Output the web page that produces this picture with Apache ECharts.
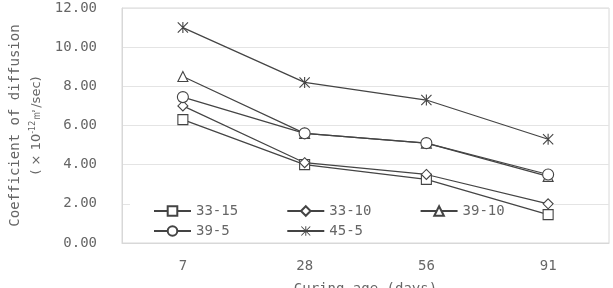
<!DOCTYPE html>
<html>
<head>
<meta charset="utf-8">
<script src="https://cdn.jsdelivr.net/npm/echarts@6/dist/echarts.min.js"></script>
<style>
  html, body { margin: 0; padding: 0; background: #fff; }
  #echarts { width: 613px; height: 288px; }
</style>
</head>
<body>
<div id="echarts"></div>
<script>
// curing age categories
var ages = ['7', '28', '56', '91'];

// diffusion coefficient per mix (x10^-12 m2/sec)
var mix3315 = [6.3, 4.0, 3.25, 1.45];
var mix3310 = [7.0, 4.1, 3.5, 2.0];
var mix3910 = [8.5, 5.6, 5.1, 3.4];
var mix395 = [7.45, 5.6, 5.1, 3.5];
var mix455 = [11.0, 8.2, 7.3, 5.3];

var yTicks = [0, 2, 4, 6, 8, 10, 12];

var lineColor = '#444';
var textColor = '#666';
var mono = 'DejaVu Sans Mono';

// asterisk marker: vertical bar + X
var starPath = 'path://M4.5,0 L5.5,0 L5.5,10 L4.5,10 Z M0,0.7 L0.7,0 L10,9.3 L9.3,10 Z M9.3,0 L10,0.7 L0.7,10 L0,9.3 Z';

function makeSeries(name, data, symbol, size, filled) {
    return {
        name: name,
        type: 'line',
        data: data,
        symbol: symbol,
        symbolSize: size,
        showSymbol: true,
        lineStyle: { color: lineColor, width: 1.2 },
        itemStyle: filled
            ? { color: lineColor, borderWidth: 0 }
            : { color: '#fff', borderColor: lineColor, borderWidth: 1.1 },
        emphasis: { disabled: true },
        z: 3
    };
}

var seriesArray = [
    makeSeries('33-15', mix3315, 'rect', 10, false),
    makeSeries('33-10', mix3310, 'diamond', 10, false),
    makeSeries('39-10', mix3910, 'triangle', 10, false),
    makeSeries('39-5', mix395, 'circle', 11, false),
    makeSeries('45-5', mix455, starPath, 11, true)
];

var myEChart = echarts.init(document.getElementById('echarts'));

// pad names so legend columns line up (monospace font)
function padName(name) {
    var s = name;
    while (s.length < 10) s += ' ';
    return s;
}

function makeLegend(names, top, bg) {
    return {
        data: names,
        left: 130,
        top: top,
        z: 1,
        orient: 'horizontal',
        backgroundColor: bg ? '#fff' : 'transparent',
        padding: bg ? [5, 7, 19, 23] : [0, 0, 0, 23],
        itemWidth: 37,
        itemHeight: 12,
        itemGap: 6,
        formatter: padName,
        textStyle: { fontFamily: mono, fontSize: 14, color: textColor }
    };
}

var chartOption = {
    animation: false,
    backgroundColor: '#fff',
    grid: {
        left: 122, right: 4, top: 8, bottom: 45,
        outerBoundsMode: 'none',
        show: true,
        borderColor: '#d8d8d8',
        borderWidth: 1
    },
    legend: [
        makeLegend(['33-15', '33-10', '39-10'], 199, true),
        makeLegend(['39-5', '45-5'], 224, false)
    ],
    xAxis: {
        type: 'category',
        data: ages,
        boundaryGap: true,
        axisLine: { show: true, lineStyle: { color: '#d8d8d8' } },
        axisTick: { show: false },
        axisLabel: { fontFamily: mono, fontSize: 14, color: textColor, margin: 16 },
        name: 'Curing age (days)',
        nameLocation: 'middle',
        nameGap: 39,
        nameTextStyle: { fontFamily: mono, fontSize: 14, color: textColor }
    },
    yAxis: {
        type: 'value',
        min: yTicks[0],
        max: yTicks[yTicks.length - 1],
        interval: 2,
        axisLine: { show: true, lineStyle: { color: '#d8d8d8' } },
        axisTick: { show: false },
        splitLine: { lineStyle: { color: '#e4e4e4' } },
        axisLabel: {
            fontFamily: mono, fontSize: 14, color: textColor, margin: 25,
            formatter: function (v) { return v.toFixed(2); }
        },
        name: '{a|Coefficient of diffusion}\n{b|( × 10}{s|-12}{b|㎡/sec)}',
        nameLocation: 'middle',
        nameRotate: 90,
        nameGap: 75,
        nameTextStyle: {
            rich: {
                a: { fontFamily: mono, fontSize: 14, color: textColor, lineHeight: 24 },
                b: { fontFamily: 'DejaVu Sans', fontSize: 13, color: textColor, lineHeight: 20 },
                s: { fontFamily: 'DejaVu Sans', fontSize: 8, color: textColor, padding: [0, 0, 8, 0] }
            }
        }
    },
    series: seriesArray
};

myEChart.setOption(chartOption);
</script>
</body>
</html>
